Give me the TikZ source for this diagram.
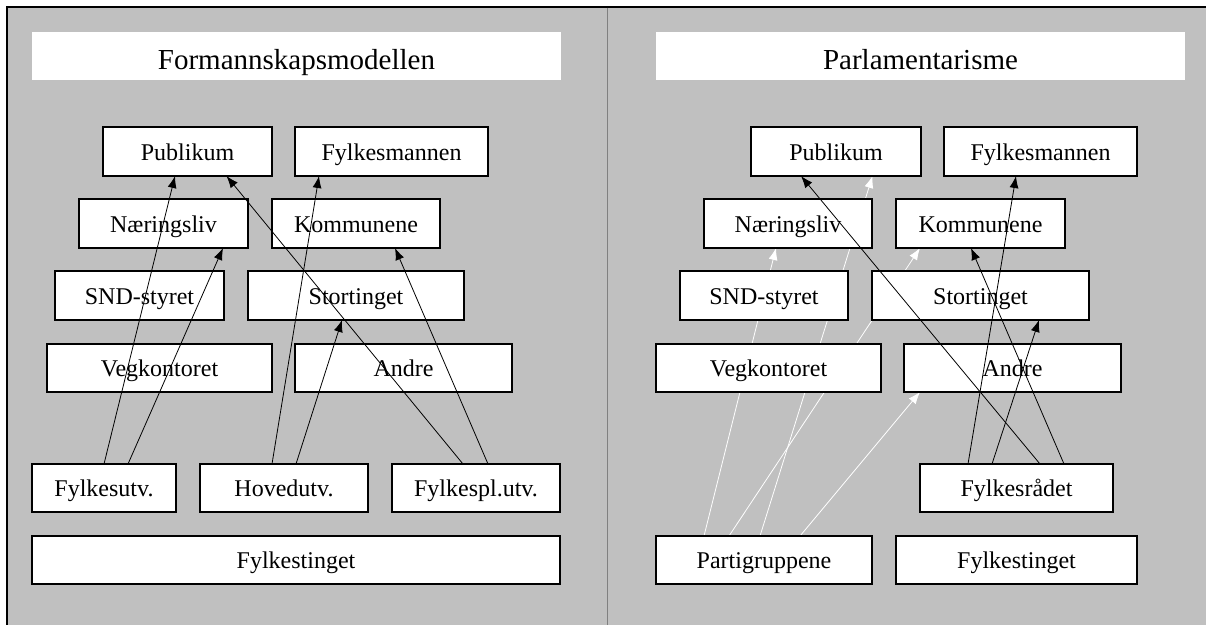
\documentclass[tikz,border=0pt]{standalone}
\usepackage{fontspec}
\setmainfont{Liberation Serif}
\usetikzlibrary{arrows.meta}
\pgfdeclarelayer{bg}
\pgfdeclarelayer{mid}
\pgfsetlayers{bg,mid,main}
\newcommand{\bx}[7][box]{\node[#1, minimum width={#5-#3}, minimum height={#6-#4}] (#2) at ({(#3+#5)/2},{(#4+#6)/2}) {#7};}
\tikzset{
  box/.style={draw=black, line width=1.8pt, fill=white, inner sep=0pt, outer sep=0pt,
    font=\fontsize{24}{28}\selectfont, text height=17pt, text depth=0pt},
  titlebox/.style={fill=white, inner sep=0pt, outer sep=0pt,
    font=\fontsize{29}{34}\selectfont, text height=26pt, text depth=0pt},
  arr/.style={draw=black, line width=0.8pt, -{Latex[length=12pt,width=9pt]}},
  warr/.style={draw=white, line width=0.8pt, -{Latex[length=12pt,width=9pt]}},
}
\begin{document}
\begin{tikzpicture}[x=1pt,y=-1pt]
\useasboundingbox (0,0) rectangle (1206,625);
% background frame
\begin{pgfonlayer}{bg}
\fill[fill={rgb,255:red,192;green,192;blue,192}] (7,7) rectangle (1206,625);
\draw[line width=1.3pt] (1206,7) -- (7,7) -- (7,625);
\draw[line width=1pt, draw={rgb,255:red,128;green,128;blue,128}] (607,7.6) -- (607,625);
\end{pgfonlayer}
% titles
\bx[titlebox]{titleL}{32}{32}{561}{80}{Formannskapsmodellen}
\bx[titlebox]{titleR}{656}{32}{1185}{80}{Parlamentarisme}
% ---------- left panel ----------
\bx{pubL}{103}{127}{272}{176}{Publikum}
\bx{fymL}{295}{127}{488}{176}{Fylkesmannen}
\bx{naeL}{79}{199}{248}{248}{Næringsliv}
\bx{komL}{272}{199}{440}{248}{Kommunene}
\bx{sndL}{55}{271}{224}{320}{SND-styret}
\bx{stoL}{248}{271}{464}{320}{Stortinget}
\bx{vegL}{47}{344}{272}{392}{Vegkontoret}
\bx{andL}{295}{344}{512}{392}{Andre}
\bx{fyuL}{32}{464}{176}{512}{Fylkesutv.}
\bx{hovL}{200}{464}{368}{512}{Hovedutv.}
\bx{fplL}{392}{464}{560}{512}{Fylkespl.utv.}
\bx{ftgL}{32}{536}{560}{584}{Fylkestinget}
\draw[arr] ([xshift=72pt]fyuL.north west) -- ([xshift=72pt]pubL.south west);
\draw[arr] ([xshift=96pt]fyuL.north west) -- ([xshift=144pt]naeL.south west);
\draw[arr] ([xshift=72pt]hovL.north west) -- ([xshift=24pt]fymL.south west);
\draw[arr] ([xshift=96pt]hovL.north west) -- ([xshift=94pt]stoL.south west);
\draw[arr] ([xshift=71pt]fplL.north west) -- ([xshift=123.5pt]pubL.south west);
\draw[arr] ([xshift=96pt]fplL.north west) -- ([xshift=123pt]komL.south west);
% ---------- right panel ----------
\bx{pubR}{751}{127}{921}{176}{Publikum}
\bx{fymR}{944}{127}{1137}{176}{Fylkesmannen}
\bx{naeR}{704}{199}{872}{248}{Næringsliv}
\bx{komR}{896}{199}{1065}{248}{Kommunene}
\bx{sndR}{680}{271}{848}{320}{SND-styret}
\bx{stoR}{872}{271}{1089}{320}{Stortinget}
\bx{vegR}{656}{344}{881}{392}{Vegkontoret}
\bx{andR}{904}{344}{1121}{392}{Andre}
\bx{fyrR}{920}{464}{1113}{512}{Fylkesrådet}
\bx{parR}{656}{536}{872}{584}{Partigruppene}
\bx{ftgR}{896}{536}{1137}{584}{Fylkestinget}
\begin{pgfonlayer}{mid}
\draw[warr] ([xshift=48pt]parR.north west) -- ([xshift=72pt]naeR.south west);
\draw[warr] ([xshift=104pt]parR.north west) -- ([xshift=121.5pt]pubR.south west);
\draw[warr] ([xshift=73pt]parR.north west) -- ([xshift=24pt]komR.south west);
\draw[warr] ([xshift=144pt]parR.north west) -- ([xshift=16pt]andR.south west);
\end{pgfonlayer}
\draw[arr] ([xshift=120pt]fyrR.north west) -- ([xshift=50pt]pubR.south west);
\draw[arr] ([xshift=48pt]fyrR.north west) -- ([xshift=72pt]fymR.south west);
\draw[arr] ([xshift=72pt]fyrR.north west) -- ([xshift=167pt]stoR.south west);
\draw[arr] ([xshift=144pt]fyrR.north west) -- ([xshift=75pt]komR.south west);
\end{tikzpicture}
\end{document}
